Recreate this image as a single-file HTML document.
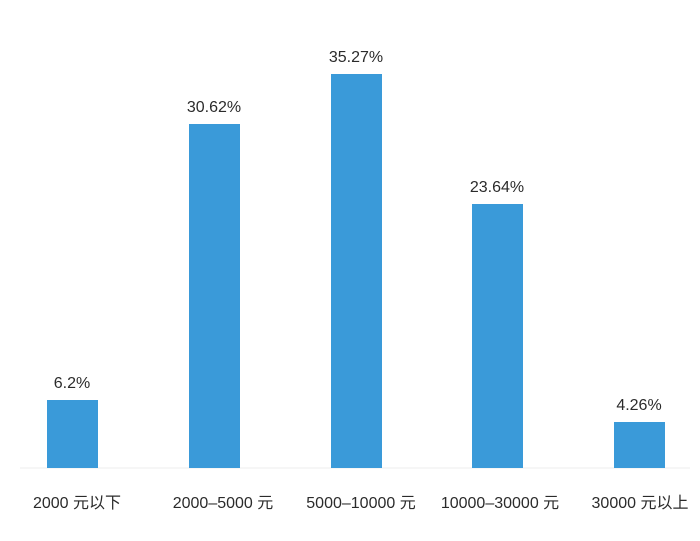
<!DOCTYPE html>
<html><head><meta charset="utf-8"><style>
body{margin:0;background:#fff;width:700px;height:536px;overflow:hidden}
svg text{font-family:"Liberation Sans","Noto Sans CJK SC",sans-serif;fill:#2b2b2b;font-size:16px;text-anchor:middle}
</style></head><body>
<svg width="700" height="536">
<line x1="20" y1="468" x2="690" y2="468" stroke="#eeeeee" stroke-width="1"/>
<g fill="#3a9ad9">
<rect x="47" y="400" width="51" height="68"/>
<rect x="189" y="124" width="51" height="344"/>
<rect x="331" y="74" width="51" height="394"/>
<rect x="472" y="204" width="51" height="264"/>
<rect x="614" y="422" width="51" height="46"/>
</g>
<text x="72" y="388">6.2%</text>
<text x="214" y="112">30.62%</text>
<text x="356" y="62">35.27%</text>
<text x="497" y="192">23.64%</text>
<text x="639" y="410">4.26%</text>
<text x="77" y="508">2000 元以下</text>
<text x="223" y="508">2000–5000 元</text>
<text x="361" y="508">5000–10000 元</text>
<text x="500" y="508">10000–30000 元</text>
<text x="640" y="508">30000 元以上</text>
</svg>
</body></html>
